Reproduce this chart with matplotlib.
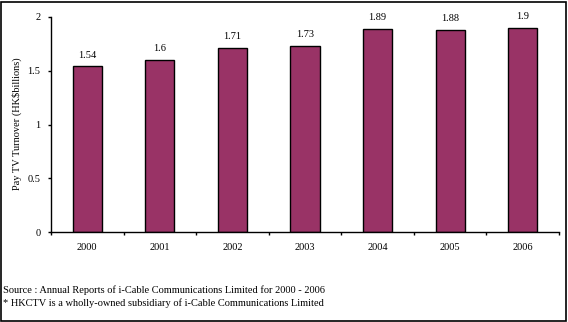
import matplotlib
matplotlib.use("Agg")
import matplotlib.pyplot as plt
from matplotlib.patches import Rectangle

years = ["2000", "2001", "2002", "2003", "2004", "2005", "2006"]
turnover = [1.54, 1.6, 1.71, 1.73, 1.89, 1.88, 1.9]
value_labels = ["1.54", "1.6", "1.71", "1.73", "1.89", "1.88", "1.9"]
yticks = [0, 0.5, 1, 1.5, 2]
ytick_labels = ["0", "0.5", "1", "1.5", "2"]

plt.rcParams['font.family'] = ['Liberation Serif', 'DejaVu Serif']
fs = 7.5

fig = plt.figure(figsize=(5.68, 3.22), dpi=100)
ax = fig.add_axes([51/568, 90/322, (559-51)/568, (232-17)/322])

x = list(range(len(years)))
ax.bar(x, turnover, width=0.4, color="#993366", edgecolor="black", linewidth=1.0, zorder=2)
for xi, v, lab in zip(x, turnover, value_labels):
    ax.annotate(lab, (xi, v), xytext=(0, 5), textcoords="offset points",
                ha="center", va="bottom", fontsize=fs)

ax.set_xlim(-0.5, len(years) - 0.5)
ax.set_ylim(0, 2)
ax.set_yticks(yticks)
ax.set_yticklabels(ytick_labels, fontsize=fs)
ax.set_xticks(x)
ax.set_xticklabels(years, fontsize=fs)
ax.tick_params(axis="x", length=0, pad=8)
ax.set_xticks([i + 0.5 for i in range(-1, len(years))], minor=True)
ax.tick_params(axis="x", which="minor", length=2.5, direction="out", width=1)
ax.tick_params(axis="y", length=2.5, direction="out", width=1, pad=5)
ax.spines["top"].set_visible(False)
ax.spines["right"].set_visible(False)
ax.spines["left"].set_linewidth(1)
ax.spines["bottom"].set_linewidth(1)

fig.text(17/568, 1 - 124/322, "Pay TV Turnover (HK$billions)", fontsize=fs,
         rotation=90, ha="center", va="center")

fig.text(3/568, 1 - 290/322, "Source : Annual Reports of i-Cable Communications Limited for 2000 - 2006",
         fontsize=fs, va="center", ha="left")
fig.text(3/568, 1 - 303/322, "* HKCTV is a wholly-owned subsidiary of i-Cable Communications Limited",
         fontsize=fs, va="center", ha="left")

fig.patches.append(Rectangle((1/568, 1/322), 565/568, 319/322, transform=fig.transFigure,
                             fill=False, edgecolor="black", linewidth=1.2))

fig.savefig("out.png", dpi=100)
